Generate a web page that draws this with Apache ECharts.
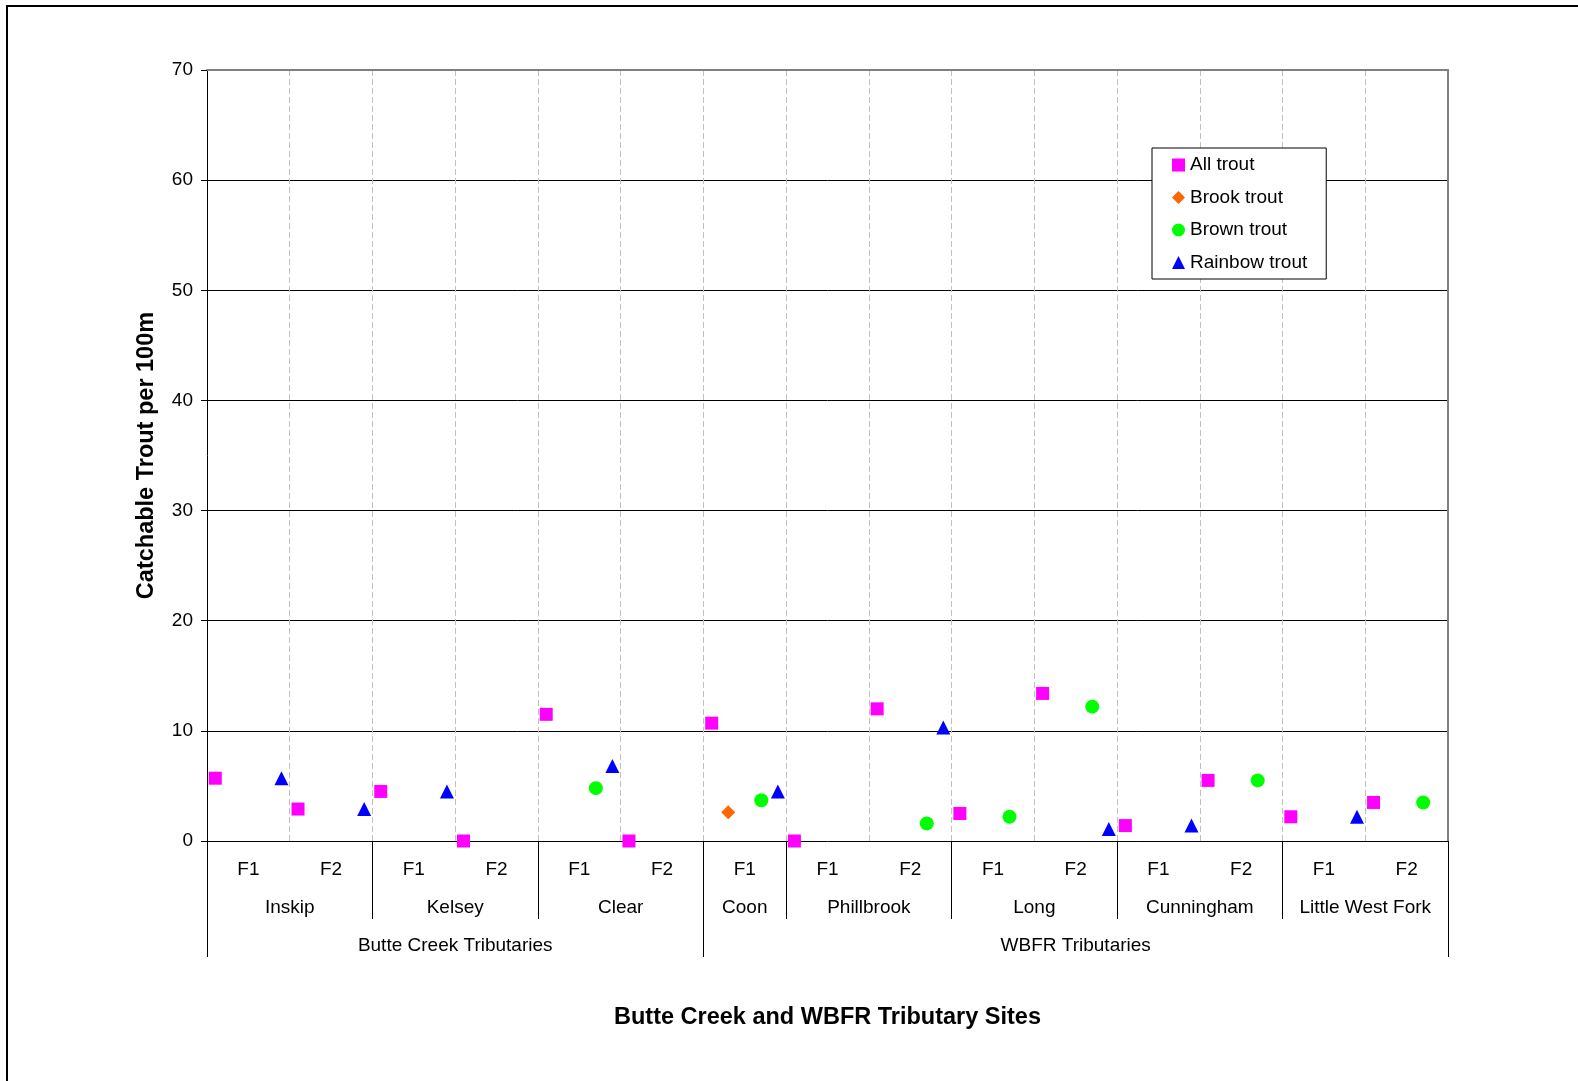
<!DOCTYPE html>
<html>
<head>
<meta charset="utf-8">
<script src="https://cdn.jsdelivr.net/npm/echarts@6/dist/echarts.min.js"></script>
<style>
html,body{margin:0;padding:0;background:#fff;}
#chart{width:1578px;height:1081px;}
</style>
</head>
<body>
<div id="chart"></div>
<script>
// ---------------- data ----------------
const groups = ['Butte Creek Tributaries', 'WBFR Tributaries'];
const groupSiteCounts = [3, 5];
const sites = ['Inskip', 'Kelsey', 'Clear', 'Coon', 'Phillbrook', 'Long', 'Cunningham', 'Little West Fork'];
const siteSections = [['F1','F2'], ['F1','F2'], ['F1','F2'], ['F1'], ['F1','F2'], ['F1','F2'], ['F1','F2'], ['F1','F2']];

const seriesNames = ['All trout', 'Brook trout', 'Brown trout', 'Rainbow trout'];
// one value per section, in order (Inskip F1, Inskip F2, Kelsey F1, ... Little West Fork F2)
const allTrout     = [5.7, 2.9, 4.5, 0,    11.5, 0,    10.7, 0,    12.0, 2.5,  13.4, 1.4,  5.5,  2.2,  3.5];
const brookTrout   = [null,null,null,null, null, null, 2.6,  null, null, null, null, null, null, null, null];
const brownTrout   = [null,null,null,null, 4.8,  null, 3.7,  null, 1.6,  2.2,  12.2, null, 5.5,  null, 3.5];
const rainbowTrout = [5.7, 2.9, 4.5, null, 6.8,  null, 4.5,  null, 10.3, null, 1.1,  1.4,  null, 2.2,  null];

const yMin = 0, yMax = 70, yStep = 10;

// ---------------- styles ----------------
const FONT = '"Liberation Sans", Arial, sans-serif';
const seriesValues = [allTrout, brookTrout, brownTrout, rainbowTrout];
const seriesSymbols = ['rect', 'diamond', 'circle', 'triangle'];
const seriesSizes = [13, 14, 14, 14];
const seriesColors = ['#FF00FF', '#FF6600', '#00FF00', '#0000FF'];
const slotOffsets = [0.1, 0.3, 0.7, 0.9]; // position of each series inside its category

// ---------------- derived axis structure ----------------
const leafNames = [];
siteSections.forEach(sec => sec.forEach(f => leafNames.push(f)));
const nLeaf = leafNames.length;
const leafCenters = leafNames.map((_, i) => i + 0.5);

const siteBounds = [0], siteCenters = [];
let p = 0;
siteSections.forEach(sec => { siteCenters.push(p + sec.length / 2); p += sec.length; siteBounds.push(p); });

const groupBounds = [0], groupCenters = [];
let si = 0;
groupSiteCounts.forEach(cnt => {
  const start = siteBounds[si]; si += cnt; const end = siteBounds[si];
  groupCenters.push((start + end) / 2); groupBounds.push(end);
});

function lookup(centers, names) {
  return function (v) {
    for (let i = 0; i < centers.length; i++) if (Math.abs(centers[i] - v) < 1e-6) return names[i];
    return '';
  };
}

const labelStyle = { fontSize: 19, color: '#000', fontFamily: FONT };
const titleStyle = { fontSize: 23.5, fontWeight: 'bold', color: '#000', fontFamily: FONT };

function labelAxis(centers, names, margin, bounds, tickLen) {
  return {
    type: 'value', min: 0, max: nLeaf, position: 'bottom',
    axisLine: { show: false, onZero: false },
    axisTick: bounds ? { show: true, customValues: bounds, length: tickLen, lineStyle: { color: '#000', width: 1 } } : { show: false },
    splitLine: { show: false },
    axisLabel: Object.assign({ show: true, customValues: centers, formatter: lookup(centers, names), margin: margin }, labelStyle)
  };
}

const series = seriesNames.map((name, k) => ({
  name: name,
  type: 'scatter',
  xAxisIndex: 0, yAxisIndex: 0,
  symbol: seriesSymbols[k],
  symbolSize: seriesSizes[k],
  itemStyle: { color: seriesColors[k], opacity: 1 },
  clip: false,
  z: 5,
  data: seriesValues[k].map((v, i) => v == null ? null : [i + slotOffsets[k], v]).filter(d => d)
}));

const chart = echarts.init(document.getElementById('chart'), null, { renderer: 'canvas' });
chart.setOption({
  animation: false,
  backgroundColor: '#fff',
  grid: { left: 207, right: 130, top: 70, bottom: 240, containLabel: false },
  xAxis: [
    {
      type: 'value', min: 0, max: nLeaf, interval: 1, position: 'bottom',
      axisLine: { show: true, onZero: false, lineStyle: { color: '#000', width: 1 } },
      axisTick: { show: false }, axisLabel: { show: false },
      splitLine: { show: true, showMinLine: false, showMaxLine: false, lineStyle: { color: '#c0c0c0', type: [6, 3], width: 1 } },
      name: 'Butte Creek and WBFR Tributary Sites', nameLocation: 'middle', nameGap: 165,
      nameTextStyle: titleStyle
    },
    labelAxis(leafCenters, leafNames, 19, null, 0),
    labelAxis(siteCenters, sites, 57, siteBounds, 78),
    labelAxis(groupCenters, groups, 95, groupBounds, 116),
    {
      type: 'value', min: 0, max: nLeaf, position: 'top',
      axisLine: { show: true, onZero: false, lineStyle: { color: '#808080', width: 2 } },
      axisTick: { show: false }, axisLabel: { show: false }, splitLine: { show: false }
    }
  ],
  yAxis: [
    {
      type: 'value', min: yMin, max: yMax, interval: yStep, position: 'left',
      axisLine: { show: true, onZero: false, lineStyle: { color: '#000', width: 1 } },
      axisTick: { show: true, length: 6, lineStyle: { color: '#000', width: 1 } },
      axisLabel: Object.assign({ margin: 14 }, labelStyle),
      splitLine: { show: true, showMinLine: false, showMaxLine: false, lineStyle: { color: '#000', width: 1 } },
      name: 'Catchable Trout per 100m', nameLocation: 'middle', nameGap: 48,
      nameTextStyle: titleStyle
    },
    {
      type: 'value', min: yMin, max: yMax, position: 'right',
      axisLine: { show: true, onZero: false, lineStyle: { color: '#808080', width: 2 } },
      axisTick: { show: false }, axisLabel: { show: false }, splitLine: { show: false }
    }
  ],
  legend: {
    orient: 'vertical', left: 1152, top: 148,
    padding: [7.5, 19, 7, 20],
    itemGap: 13.5, itemWidth: 13, itemHeight: 13,
    backgroundColor: '#fff', borderColor: '#000', borderWidth: 1, borderRadius: 0,
    selectedMode: false,
    textStyle: Object.assign({ lineHeight: 19, padding: [0, 0, 0, 0] }, labelStyle),
    data: seriesNames.map((n, k) => ({ name: n, icon: seriesSymbols[k], itemStyle: { color: seriesColors[k] } }))
  },
  graphic: [{
    type: 'rect', silent: true, z: -10,
    shape: { x: 7, y: 6, width: 1600, height: 1100 },
    style: { fill: 'none', stroke: '#000', lineWidth: 2 }
  }],
  series: series
});
</script>
</body>
</html>
